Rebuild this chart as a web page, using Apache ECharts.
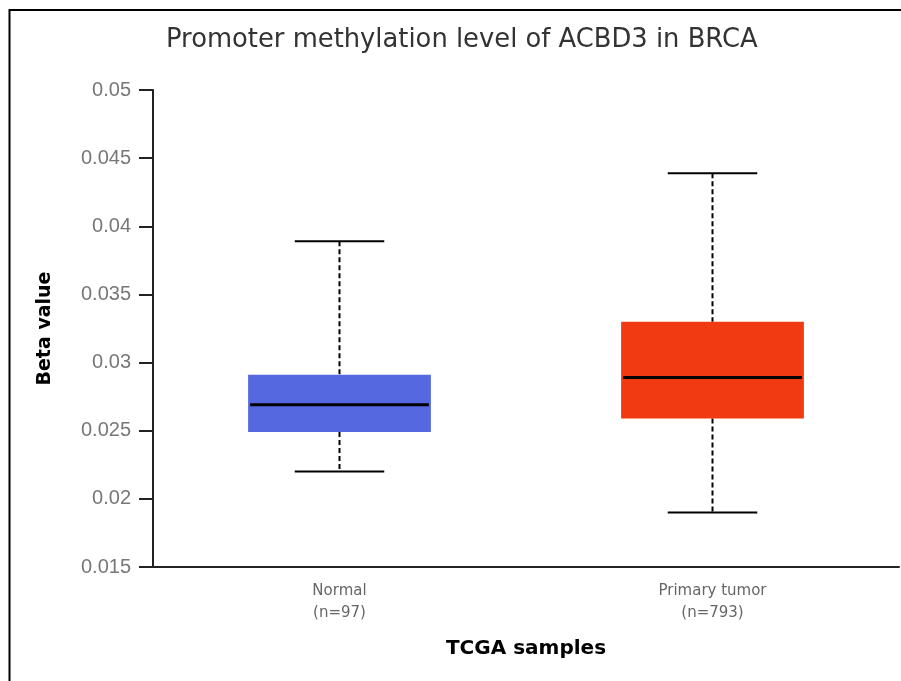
<!DOCTYPE html>
<html>
<head>
<meta charset="utf-8">
<script src="https://cdn.jsdelivr.net/npm/echarts@6/dist/echarts.min.js"></script>
<style>
  html, body { margin: 0; padding: 0; background: #fff; }
  #chart { width: 901px; height: 681px; }
</style>
</head>
<body>
<div id="chart"></div>
<script>
// box stats
const categories = ['Normal\n(n=97)', 'Primary tumor\n(n=793)']
const whiskerLow = [0.0220, 0.0190]
const q1 = [0.0249, 0.0259]
const median = [0.0269, 0.0289]
const q3 = [0.0291, 0.0330]
const whiskerHigh = [0.0389, 0.0439]
const boxColors = ['#5568E0', '#F23A12']
const yTicks = [0.015, 0.02, 0.025, 0.03, 0.035, 0.04, 0.045, 0.05]

const chart = echarts.init(document.getElementById('chart'))

const boxData = categories.map((c, i) => [i, whiskerLow[i], q1[i], median[i], q3[i], whiskerHigh[i]])

function renderBox(params, api) {
  const idx = api.value(0)
  const band = api.size([1, 0])[0]
  const boxW = band * 0.49
  const capW = band * 0.24
  const pLow = api.coord([idx, api.value(1)])
  const pQ1 = api.coord([idx, api.value(2)])
  const pMed = api.coord([idx, api.value(3)])
  const pQ3 = api.coord([idx, api.value(4)])
  const pHigh = api.coord([idx, api.value(5)])
  const cx = pMed[0]
  const dashed = { stroke: '#000', lineWidth: 2, lineDash: [5, 3] }
  const solid = { stroke: '#000', lineWidth: 2 }
  return {
    type: 'group',
    children: [
      { type: 'line', shape: { x1: cx, y1: pHigh[1], x2: cx, y2: pQ3[1] }, style: dashed },
      { type: 'line', shape: { x1: cx, y1: pQ1[1], x2: cx, y2: pLow[1] }, style: dashed },
      { type: 'line', shape: { x1: cx - capW / 2, y1: pHigh[1], x2: cx + capW / 2, y2: pHigh[1] }, style: solid },
      { type: 'line', shape: { x1: cx - capW / 2, y1: pLow[1], x2: cx + capW / 2, y2: pLow[1] }, style: solid },
      {
        type: 'rect',
        shape: { x: cx - boxW / 2, y: pQ3[1], width: boxW, height: pQ1[1] - pQ3[1] },
        style: { fill: boxColors[idx], stroke: null }
      },
      { type: 'line', shape: { x1: cx - boxW / 2 + 2, y1: pMed[1], x2: cx + boxW / 2 - 2, y2: pMed[1] }, style: { stroke: '#000', lineWidth: 3 } }
    ]
  }
}

chart.setOption({
  animation: false,
  backgroundColor: '#fff',
  title: {
    text: 'Promoter methylation level of ACBD3 in BRCA',
    left: 161,
    top: 22,
    textStyle: {
      fontFamily: 'DejaVu Sans',
      fontSize: 25.8,
      fontWeight: 'normal',
      color: '#333'
    }
  },
  graphic: [{
    type: 'rect',
    shape: { x: 9.5, y: 10, width: 950, height: 750 },
    style: { fill: null, stroke: '#000', lineWidth: 2 },
    silent: true
  }],
  grid: { left: 153, right: 2, top: 90, bottom: 114 },
  xAxis: {
    type: 'category',
    data: categories,
    name: 'TCGA samples',
    nameLocation: 'middle',
    nameGap: 72,
    nameTextStyle: { fontFamily: 'DejaVu Sans', fontSize: 20, fontWeight: 'bold', color: '#000' },
    axisLine: { lineStyle: { color: '#222', width: 2 } },
    axisTick: { show: false },
    axisLabel: {
      margin: 13,
      fontFamily: 'DejaVu Sans',
      fontSize: 15,
      lineHeight: 22,
      color: '#666'
    }
  },
  yAxis: {
    type: 'value',
    min: 0.015,
    max: 0.05,
    interval: 0.005,
    name: 'Beta value',
    nameLocation: 'middle',
    nameGap: 98,
    nameTextStyle: { fontFamily: 'DejaVu Sans', fontSize: 19, fontWeight: 'bold', color: '#000' },
    axisLine: { show: true, lineStyle: { color: '#222', width: 2 } },
    axisTick: { show: true, length: 14, lineStyle: { color: '#222', width: 2 } },
    splitLine: { show: false },
    axisLabel: {
      margin: 22,
      fontFamily: 'Liberation Sans',
      fontSize: 20,
      color: '#777',
      formatter: v => String(yTicks.find(t => Math.abs(t - v) < 1e-9) ?? v)
    }
  },
  series: [{
    type: 'custom',
    renderItem: renderBox,
    encode: { x: 0, y: [1, 2, 3, 4, 5] },
    data: boxData
  }]
})
</script>
</body>
</html>
